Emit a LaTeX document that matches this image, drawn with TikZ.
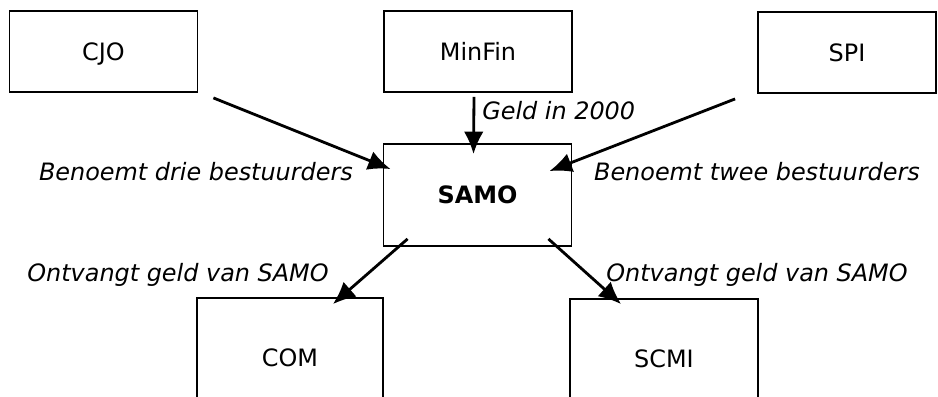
\documentclass[tikz,border=0pt]{standalone}
\usepackage{fontspec}
\setmainfont{DejaVu Sans}
\usetikzlibrary{arrows.meta,positioning}
\tikzset{orgbox/.style={draw=black,line width=1.3pt,minimum width=188\unitpx,minimum height=81\unitpx,inner sep=0pt,font=\fontsize{17}{20}\selectfont}}
\tikzset{lbl/.style={font=\fontsize{17}{20}\selectfont\itshape,inner sep=0pt}}
\tikzset{arr/.style={-{Latex[length=16pt,width=14pt]},line width=2pt}}
\newcommand{\unitpx}{*0.025cm}

\begin{document}
\begin{tikzpicture}[x=0.025cm,y=-0.025cm]
\useasboundingbox (0,0) rectangle (938,396);
\clip (0,0) rectangle (938,396);
% boven
\node (cjo) [orgbox,text depth=-3pt] at (103.5,51.5) {CJO};
\node (minfin) [orgbox,text depth=-3pt] at (478,51.5) {MinFin};
\node (spi) [orgbox,text depth=-3pt,minimum width=178\unitpx] at (847,52.5) {SPI};
% midden
\node (samo) [orgbox,minimum height=102\unitpx] at (477.5,195) {\bfseries SAMO};
% onder
\node (com) [orgbox,minimum width=186\unitpx,minimum height=120\unitpx] at (290,358) {COM};
\node (scmi) [orgbox,minimum width=188\unitpx,minimum height=120\unitpx] at (664,359) {SCMI};
%
\draw[arr] ([shift={(15,5)}]cjo.south east) -- ([shift={(8,26)}]samo.north west);
\draw[arr] ([shift={(-4,4)}]minfin.south) -- ([shift={(-4,11)}]samo.north);
\draw[arr] ([shift={(-22,5)}]spi.south west) -- ([shift={(-23,28)}]samo.north east);
\draw[arr] ([shift={(25,-8)}]samo.south west) -- ([shift={(-51,7)}]com.north east);
\draw[arr] ([shift={(-24,-8)}]samo.south east) -- ([shift={(52,6)}]scmi.north west);
%
\node (geld) [lbl,anchor=west] at (482,111) {Geld in 2000};
\node (drie) [lbl] at (196,172) {Benoemt drie bestuurders};
\node (twee) [lbl] at (757,172) {Benoemt twee bestuurders};
\node (ontvcom) [lbl] at (178,275) {Ontvangt geld van SAMO};
\node (ontvscmi) [lbl] at (757,275) {Ontvangt geld van SAMO};
\end{tikzpicture}
\end{document}
